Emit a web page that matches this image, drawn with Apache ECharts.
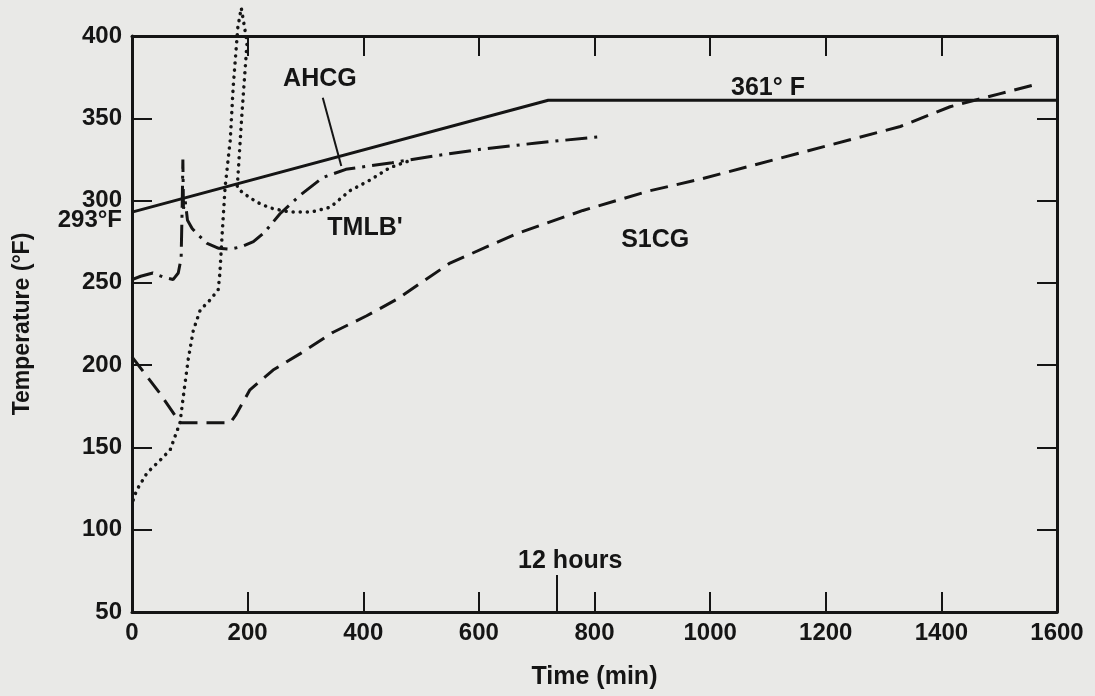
<!DOCTYPE html>
<html>
<head>
<meta charset="utf-8">
<script src="https://cdn.jsdelivr.net/npm/echarts@6/dist/echarts.min.js"></script>
<style>
  html, body { margin: 0; padding: 0; background: #e9e9e7; }
  #chart { width: 1095px; height: 696px; }
</style>
</head>
<body>
<div id="chart"></div>
<script>
// time (min) / temperature (F)
var limitT = [0, 720, 1600];
var limitF = [293, 361, 361];

var ahcgT = [0, 15, 36, 54, 71, 80, 85, 87, 88, 89, 92, 96, 104, 112, 130, 150, 170, 190, 210, 230, 256, 290, 330, 370, 450, 520, 600, 700, 815];
var ahcgF = [252, 254, 256, 253.5, 252, 256, 265, 300, 325, 295, 300, 288, 283, 280, 274, 271, 270.5, 272, 275, 281, 292, 303, 314, 319, 323, 327, 331, 335, 339];

var tmlbT = [2, 8, 26, 48, 66, 83, 88, 97, 106, 118, 135, 149, 152, 156, 161, 170, 175, 183, 189, 199, 190, 182, 192, 216, 239, 273, 310, 343, 377, 412, 446, 486];
var tmlbF = [118, 124, 134.5, 142, 148.5, 165, 179, 203, 221, 233.5, 239.6, 245.7, 256, 280, 308, 337, 369, 405, 417, 396, 352, 308, 304.6, 299, 295.5, 293, 293, 296, 306, 312.5, 320, 325];

var s1cgT = [0, 48, 83, 170, 180, 204, 244, 291, 348, 406, 458, 550, 666, 780, 896, 983, 1156, 1329, 1415, 1502, 1568];
var s1cgF = [205, 183, 165, 165, 170, 185, 197, 207, 220, 230, 240, 262, 280, 294, 306, 313, 329, 345, 357, 365, 371];

var xTicks = [0, 200, 400, 600, 800, 1000, 1200, 1400, 1600];
var yTicks = [50, 100, 150, 200, 250, 300, 350, 400];

function pairs(t, f) {
  return t.map(function (v, i) { return [v, f[i]]; });
}

var ink = '#151515';
var font = 'Liberation Sans, Arial, sans-serif';

var chart = echarts.init(document.getElementById('chart'));

var baseX = {
  type: 'value', min: xTicks[0], max: xTicks[xTicks.length - 1], interval: 200,
  axisLine: { show: true, onZero: false, lineStyle: { color: ink, width: 3 } },
  axisTick: { show: true, inside: true, length: 20, lineStyle: { color: ink, width: 2 } },
  splitLine: { show: false }
};
var baseY = {
  type: 'value', min: yTicks[0], max: yTicks[yTicks.length - 1], interval: 50,
  axisLine: { show: true, onZero: false, lineStyle: { color: ink, width: 3 } },
  axisTick: { show: true, inside: true, length: 20, lineStyle: { color: ink, width: 2 } },
  splitLine: { show: false }
};
var plain = function (v) { return String(v); };

chart.setOption({
  backgroundColor: '#e9e9e7',
  animation: false,
  grid: { left: 132, right: 38, top: 36, bottom: 84 },
  xAxis: [
    Object.assign({}, baseX, {
      position: 'bottom',
      name: 'Time (min)', nameLocation: 'middle', nameGap: 53,
      nameTextStyle: { color: ink, fontSize: 25, fontWeight: 'bold', fontFamily: font },
      axisLabel: { color: ink, fontSize: 24, fontWeight: 'bold', fontFamily: font, margin: 9, formatter: plain }
    }),
    Object.assign({}, baseX, { position: 'top', axisLabel: { show: false } })
  ],
  yAxis: [
    Object.assign({}, baseY, {
      position: 'left',
      name: 'Temperature (\u00b0F)', nameLocation: 'middle', nameGap: 98, nameRotate: 90,
      nameTextStyle: { color: ink, fontSize: 23, fontWeight: 'bold', fontFamily: font },
      axisLabel: { color: ink, fontSize: 24, fontWeight: 'bold', fontFamily: font, margin: 10, formatter: plain }
    }),
    Object.assign({}, baseY, { position: 'right', axisLabel: { show: false } })
  ],
  series: [
    {
      name: 'limit', type: 'line', data: pairs(limitT, limitF), showSymbol: false,
      lineStyle: { color: ink, width: 3 },
      markLine: {
        silent: true, symbol: 'none', label: { show: false },
        lineStyle: { color: ink, width: 2, type: 'solid' },
        data: [[{ coord: [735, 50] }, { coord: [735, 72.5] }]]
      }
    },
    {
      name: 'AHCG', type: 'line', data: pairs(ahcgT, ahcgF), showSymbol: false,
      lineStyle: { color: ink, width: 3, type: [22, 7, 3, 7] },
      markLine: {
        silent: true, symbol: ['none', 'arrow'], symbolSize: [0, 11], label: { show: false },
        lineStyle: { color: ink, width: 2, type: 'solid' },
        data: [[{ coord: [330, 362.5] }, { coord: [362, 321] }]]
      }
    },
    {
      name: "TMLB'", type: 'line', data: pairs(tmlbT, tmlbF), showSymbol: false, clip: false,
      lineStyle: { color: ink, width: 3.5, type: [0.1, 7], cap: 'round' }
    },
    {
      name: 'S1CG', type: 'line', data: pairs(s1cgT, s1cgF), showSymbol: false,
      lineStyle: { color: ink, width: 3, type: [18, 9] }
    }
  ]
});

// text annotations placed from data coordinates
var notes = [
  { text: 'AHCG', at: [325, 374] },
  { text: '361\u00b0 F', at: [1100, 368.5] },
  { text: "TMLB'", at: [403, 283] },
  { text: 'S1CG', at: [905, 276] },
  { text: '12 hours', at: [758, 81] }
];
var g = notes.map(function (n) {
  var p = chart.convertToPixel({ gridIndex: 0 }, n.at);
  return {
    type: 'text', x: p[0], y: p[1],
    style: { text: n.text, fill: ink, font: 'bold 25px ' + font, align: 'center', verticalAlign: 'middle' }
  };
});
var p293 = chart.convertToPixel({ gridIndex: 0 }, [0, 288]);
g.push({
  type: 'text', x: 122, y: p293[1],
  style: { text: '293\u00b0F', fill: ink, font: 'bold 24px ' + font, align: 'right', verticalAlign: 'middle' }
});
chart.setOption({ graphic: g });
</script>
</body>
</html>
